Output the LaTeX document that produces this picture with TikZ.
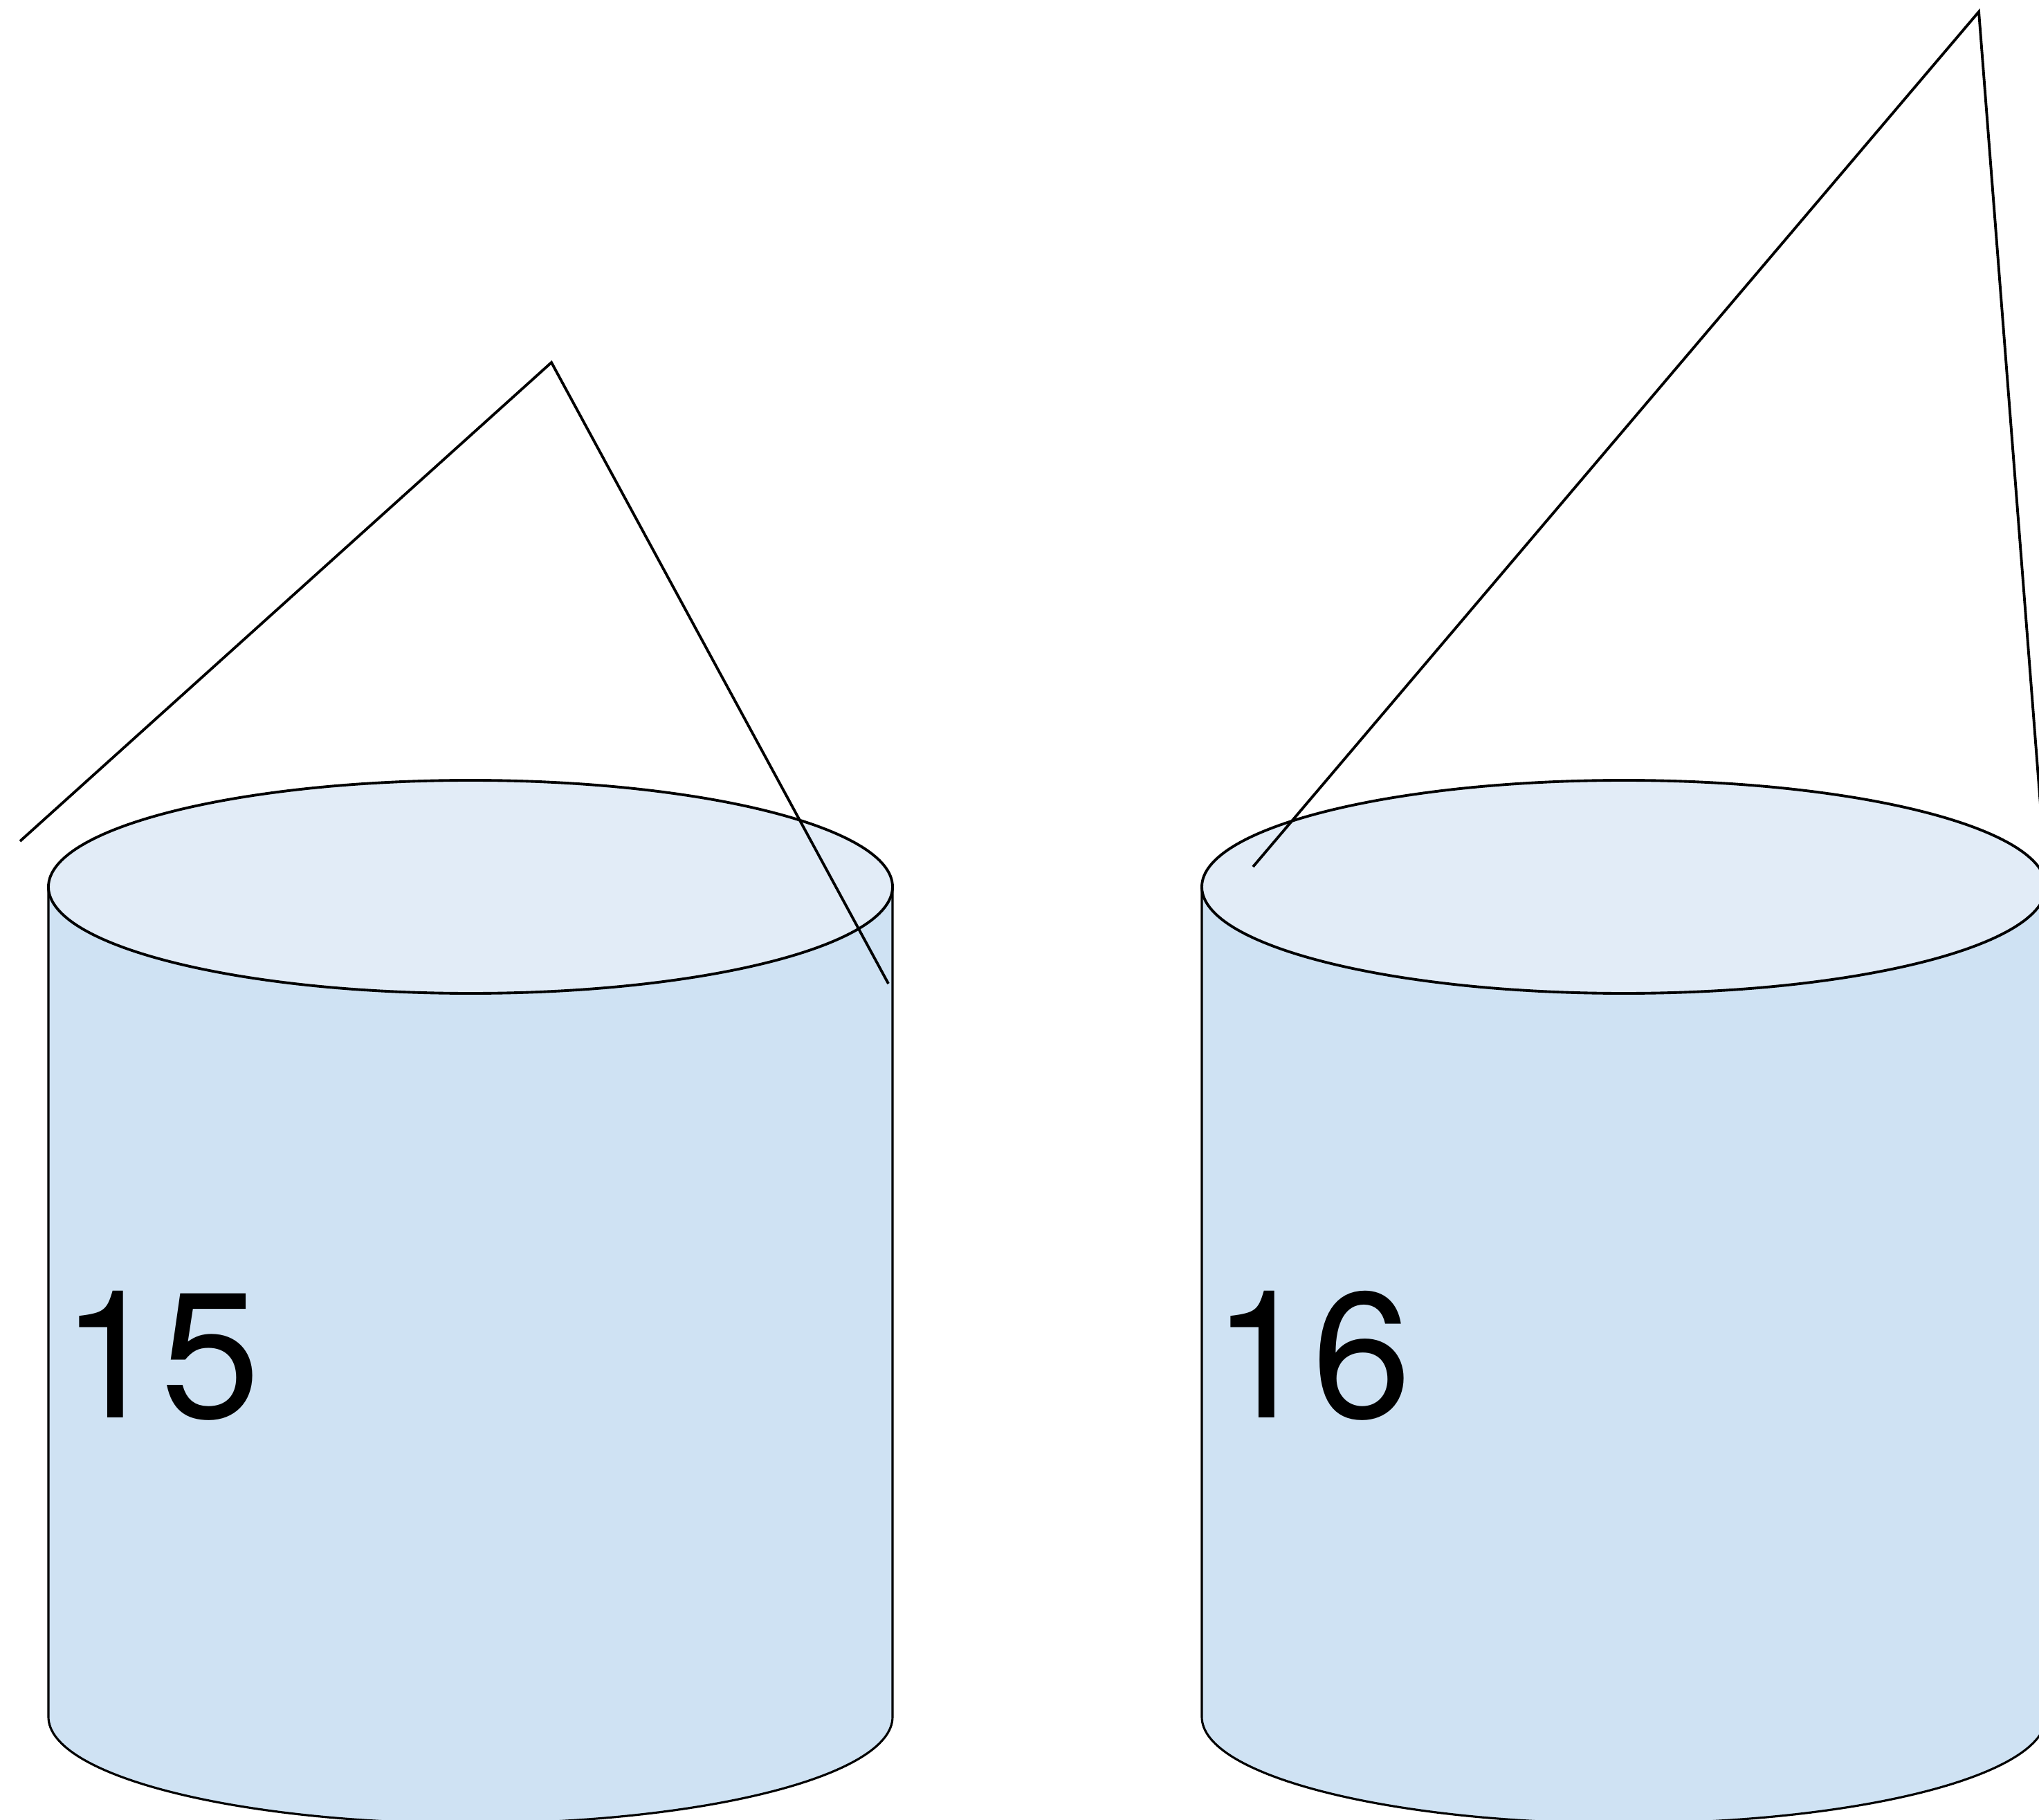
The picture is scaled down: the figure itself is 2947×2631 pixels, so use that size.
\documentclass[tikz,border=0pt]{standalone}
\usepackage{fontspec}
\setmainfont{TeX Gyre Heros}
\definecolor{sidefill}{HTML}{CFE2F3}
\definecolor{topfill}{HTML}{E2ECF7}
\begin{document}
\begin{tikzpicture}[x=0.01cm,y=-0.01cm,
  outline/.style={draw=black,line width=1.1pt},
  sideline/.style={draw=black,line width=0.9pt},
  wire/.style={draw=black,line width=1.1pt,line join=miter},
  numlabel/.style={anchor=base west,inner sep=0pt,font=\fontsize{73.5}{80}\selectfont}]
\useasboundingbox (0,0) rectangle (2947,2631);
\clip (0,0) rectangle (2947,2631);
% left cylinder
\fill[sidefill] (70,1282) -- (70,2482) arc[start angle=180,end angle=0,x radius=610,y radius=154] -- (1290,1282) -- cycle;
\draw[sideline] (70,1282) -- (70,2482) arc[start angle=180,end angle=0,x radius=610,y radius=154] -- (1290,1282);
\draw[outline,fill=topfill] (680,1282) ellipse[x radius=610,y radius=154];
% right cylinder
\fill[sidefill] (1737,1282) -- (1737,2482) arc[start angle=180,end angle=0,x radius=610,y radius=154] -- (2957,1282) -- cycle;
\draw[sideline] (1737,1282) -- (1737,2482) arc[start angle=180,end angle=0,x radius=610,y radius=154] -- (2957,1282);
\draw[outline,fill=topfill] (2347,1282) ellipse[x radius=610,y radius=154];
% labels
\node[numlabel] (n15) at (88,2049) {15};
\node[numlabel] (n16) at (1752,2049) {16};
% polylines
\coordinate (a1) at (29,1216);
\coordinate (a2) at (797,524);
\coordinate (a3) at (1284,1422);
\coordinate (b1) at (1811,1253);
\coordinate (b2) at (2860,17);
\coordinate (b3) at (2955,1240);
\draw[wire] (a1) -- (a2) -- (a3);
\draw[wire] (b1) -- (b2) -- (b3);
\end{tikzpicture}
\end{document}
